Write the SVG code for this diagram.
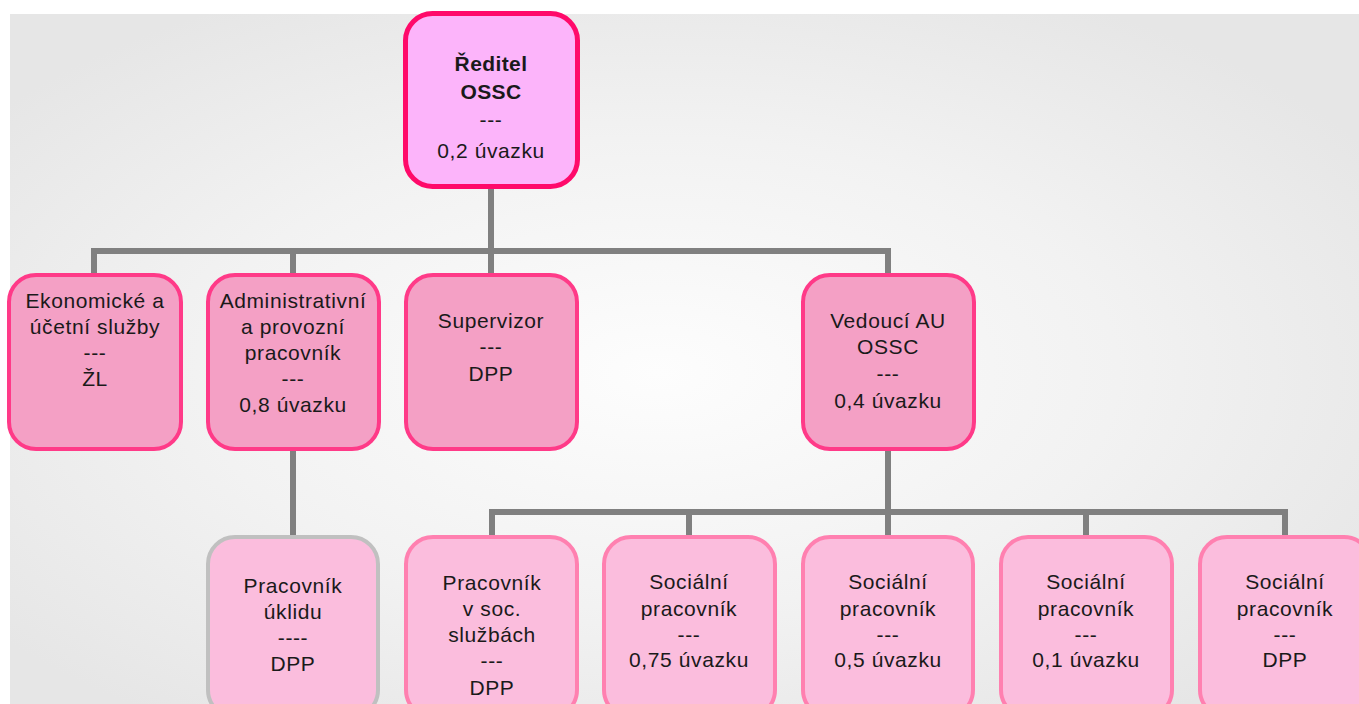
<svg xmlns="http://www.w3.org/2000/svg" width="1359" height="704" viewBox="0 0 1359 704">
<defs>
<radialGradient id="bg" cx="48%" cy="52%" r="62%">
<stop offset="0" stop-color="#fdfdfd"/>
<stop offset="0.55" stop-color="#f2f2f2"/>
<stop offset="1" stop-color="#e6e6e6"/>
</radialGradient>
<style>
text{font-family:"Liberation Sans",Arial,sans-serif;font-size:21px;letter-spacing:0.6px;fill:#1a1a1a;text-anchor:middle}
.b{font-weight:bold;letter-spacing:0.4px}
.top{fill:#fcb4fa;stroke:#ff0a6a;stroke-width:5}
.mid{fill:#f4a0c5;stroke:#ff3a88;stroke-width:4}
.low{fill:#fbbddd;stroke:#ff80b0;stroke-width:4}
.gry{fill:#fbbddd;stroke:#c0c0c0;stroke-width:4}
.c{stroke:#808080;stroke-width:6;fill:none}
</style>
</defs>
<rect x="0" y="0" width="1359" height="704" fill="#ffffff"/>
<rect x="10" y="14" width="1349" height="690" fill="url(#bg)"/>
<g id="connectors">
<path class="c" d="M491 187V251M94 274V251H888V274M293 251V274M491 251V274"/>
<path class="c" d="M293 450V536"/>
<path class="c" d="M888 450V512M492 536V512H1285V536M689 512V536M888 512V536M1086 512V536"/>
</g>
<g id="n-reditel">
<rect class="top" x="405.5" y="13.5" width="172" height="173" rx="27"/>
<text class="b" x="491" y="71">Ředitel</text>
<text class="b" x="491" y="99">OSSC</text>
<text x="491" y="127">---</text>
<text x="491" y="158">0,2 úvazku</text>
</g>
<g id="n-ekonom">
<rect class="mid" x="9" y="275" width="172" height="174" rx="27"/>
<text x="95" y="308">Ekonomické a</text>
<text x="95" y="334">účetní služby</text>
<text x="95" y="360">---</text>
<text x="95" y="386">ŽL</text>
</g>
<g id="n-admin">
<rect class="mid" x="208" y="275" width="171" height="174" rx="27"/>
<text x="293" y="308">Administrativní</text>
<text x="293" y="334">a provozní</text>
<text x="293" y="360">pracovník</text>
<text x="293" y="386">---</text>
<text x="293" y="412">0,8 úvazku</text>
</g>
<g id="n-supervizor">
<rect class="mid" x="406" y="275" width="171" height="174" rx="27"/>
<text x="491" y="328">Supervizor</text>
<text x="491" y="354">---</text>
<text x="491" y="381">DPP</text>
</g>
<g id="n-vedouci">
<rect class="mid" x="803" y="275" width="171" height="174" rx="27"/>
<text x="888" y="328">Vedoucí AU</text>
<text x="888" y="354">OSSC</text>
<text x="888" y="381">---</text>
<text x="888" y="408">0,4 úvazku</text>
</g>
<g id="n-uklid">
<rect class="gry" x="208" y="537" width="170" height="180" rx="27"/>
<text x="293" y="593">Pracovník</text>
<text x="293" y="619">úklidu</text>
<text x="293" y="645">----</text>
<text x="293" y="671">DPP</text>
</g>
<g id="n-socsluzby">
<rect class="low" x="406" y="537" width="171" height="180" rx="27"/>
<text x="492" y="590">Pracovník</text>
<text x="492" y="616">v soc.</text>
<text x="492" y="642">službách</text>
<text x="492" y="668">---</text>
<text x="492" y="695">DPP</text>
</g>
<g id="n-soc075">
<rect class="low" x="604" y="537" width="171" height="180" rx="27"/>
<text x="689" y="589">Sociální</text>
<text x="689" y="616">pracovník</text>
<text x="689" y="642">---</text>
<text x="689" y="667">0,75 úvazku</text>
</g>
<g id="n-soc05">
<rect class="low" x="803" y="537" width="170" height="180" rx="27"/>
<text x="888" y="589">Sociální</text>
<text x="888" y="616">pracovník</text>
<text x="888" y="642">---</text>
<text x="888" y="667">0,5 úvazku</text>
</g>
<g id="n-soc01">
<rect class="low" x="1001" y="537" width="171" height="180" rx="27"/>
<text x="1086" y="589">Sociální</text>
<text x="1086" y="616">pracovník</text>
<text x="1086" y="642">---</text>
<text x="1086" y="667">0,1 úvazku</text>
</g>
<g id="n-socdpp">
<rect class="low" x="1200" y="537" width="171" height="180" rx="27"/>
<text x="1285" y="589">Sociální</text>
<text x="1285" y="616">pracovník</text>
<text x="1285" y="642">---</text>
<text x="1285" y="667">DPP</text>
</g>
</svg>
